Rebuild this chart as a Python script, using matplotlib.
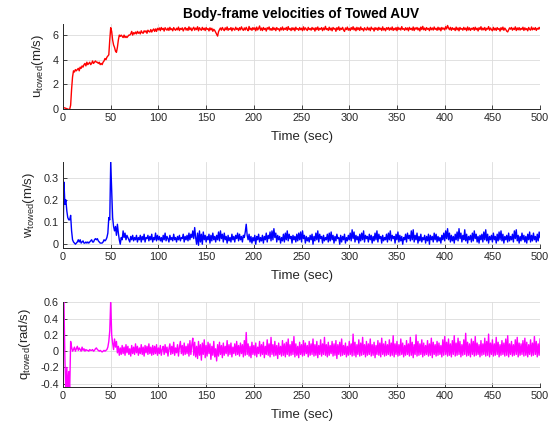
import numpy as np
import matplotlib
matplotlib.use("Agg")
import matplotlib.pyplot as plt

plt.rcParams['font.family'] = ['Liberation Sans', 'DejaVu Sans']
plt.rcParams['mathtext.default'] = 'regular'

# Simulation time, 1 s sampling
t_early = np.arange(0, 100, 1)
t_late = np.arange(100, 501, 1)

u_early = [0.15, 0.10, 0.08, 0.05, 0.02, 0.00, -0.05, -0.02, 0.30, 1.60,
           2.60, 3.10, 3.00, 3.20, 3.10, 3.20, 3.30, 3.10, 3.40, 3.30,
           3.50, 3.40, 3.60, 3.70, 3.50, 3.80, 3.60, 3.70, 3.80, 3.60,
           3.70, 3.90, 3.70, 3.80, 3.90, 3.80, 3.80, 3.70, 3.80, 3.60,
           3.70, 3.60, 3.80, 3.90, 4.10, 4.00, 4.20, 4.30, 4.40, 5.60,
           6.60, 6.30, 5.60, 5.20, 5.00, 4.70, 4.60, 5.00, 5.60, 6.00,
           5.90, 6.00, 5.90, 5.80, 6.00, 5.80, 5.90, 5.80, 5.90, 6.00,
           6.00, 6.10, 6.30, 6.00, 6.20, 6.10, 6.25, 6.10, 6.30, 6.15,
           6.25, 6.10, 6.35, 6.20, 6.15, 6.35, 6.25, 6.35, 6.15, 6.40,
           6.30, 6.25, 6.45, 6.25, 6.40, 6.50, 6.30, 6.50, 6.30, 6.55]

u_late = [6.42, 6.58, 6.36, 6.62, 6.45, 6.55, 6.33, 6.60, 6.48, 6.40,
          6.57, 6.38, 6.63, 6.44, 6.52, 6.35, 6.61, 6.47, 6.39, 6.56,
          6.43, 6.65, 6.37, 6.54, 6.46, 6.59, 6.34, 6.50, 6.62, 6.41,
          6.55, 6.38, 6.67, 6.44, 6.58, 6.36, 6.52, 6.64, 6.40, 6.57,
          6.45, 6.68, 6.35, 6.60, 6.48, 6.39, 6.63, 6.44, 6.56, 6.37,
          6.61, 6.46, 6.53, 6.34, 6.59, 6.42, 6.55, 6.31, 6.47, 6.38,
          6.22, 6.05, 5.92, 6.28, 6.45, 6.58, 6.40, 6.62, 6.47, 6.36,
          6.59, 6.44, 6.66, 6.39, 6.53, 6.45, 6.61, 6.35, 6.57, 6.48,
          6.40, 6.64, 6.46, 6.55, 6.37, 6.60, 6.43, 6.67, 6.49, 6.38,
          6.58, 6.42, 6.63, 6.47, 6.36, 6.70, 6.44, 6.56, 6.39, 6.61,
          6.46, 6.59, 6.35, 6.65, 6.42, 6.54, 6.74, 6.40, 6.57, 6.37,
          6.62, 6.45, 6.55, 6.33, 6.60, 6.48, 6.66, 6.41, 6.53, 6.39,
          6.63, 6.44, 6.57, 6.36, 6.61, 6.47, 6.52, 6.34, 6.59, 6.43,
          6.66, 6.40, 6.55, 6.46, 6.62, 6.38, 6.69, 6.45, 6.54, 6.37,
          6.60, 6.43, 6.58, 6.35, 6.64, 6.47, 6.53, 6.39, 6.61, 6.44,
          6.56, 6.36, 6.67, 6.42, 6.59, 6.48, 6.37, 6.63, 6.45, 6.54,
          6.40, 6.62, 6.46, 6.57, 6.33, 6.60, 6.44, 6.66, 6.39, 6.55,
          6.47, 6.61, 6.36, 6.58, 6.43, 6.71, 6.45, 6.53, 6.38, 6.64,
          6.42, 6.57, 6.35, 6.62, 6.48, 6.55, 6.31, 6.60, 6.44, 6.67,
          6.39, 6.56, 6.46, 6.63, 6.41, 6.30, 6.58, 6.45, 6.65, 6.40,
          6.54, 6.37, 6.61, 6.46, 6.68, 6.42, 6.57, 6.35, 6.63, 6.44,
          6.59, 6.38, 6.66, 6.45, 6.53, 6.34, 6.60, 6.47, 6.41, 6.64,
          6.43, 6.57, 6.36, 6.65, 6.48, 6.55, 6.33, 6.61, 6.45, 6.58,
          6.39, 6.63, 6.46, 6.56, 6.37, 6.67, 6.42, 6.54, 6.35, 6.60,
          6.47, 6.62, 6.40, 6.58, 6.44, 6.66, 6.38, 6.55, 6.43, 6.61,
          6.36, 6.64, 6.45, 6.57, 6.41, 6.69, 6.47, 6.53, 6.39, 6.60,
          6.44, 6.58, 6.35, 6.63, 6.46, 6.55, 6.40, 6.66, 6.37, 6.59,
          6.48, 6.62, 6.42, 6.56, 6.34, 6.65, 6.45, 6.71, 6.43, 6.57,
          6.38, 6.61, 6.47, 6.54, 6.36, 6.63, 6.44, 6.58, 6.41, 6.66,
          6.46, 6.55, 6.39, 6.64, 6.43, 6.59, 6.35, 6.62, 6.48, 6.57,
          6.42, 6.68, 6.50, 6.78, 6.58, 6.44, 6.63, 6.39, 6.60, 6.46,
          6.55, 6.37, 6.65, 6.43, 6.58, 6.35, 6.62, 6.47, 6.54, 6.40,
          6.63, 6.45, 6.57, 6.36, 6.66, 6.42, 6.59, 6.38, 6.55, 6.47,
          6.61, 6.39, 6.64, 6.44, 6.56, 6.34, 6.60, 6.46, 6.68, 6.41,
          6.57, 6.43, 6.62, 6.37, 6.55, 6.48, 6.69, 6.40, 6.58, 6.45,
          6.35, 6.63, 6.42, 6.56, 6.38, 6.61, 6.46, 6.54, 6.33, 6.60,
          6.44, 6.65, 6.39, 6.57, 6.46, 6.32, 6.26, 6.43, 6.59, 6.48,
          6.62, 6.40, 6.56, 6.45, 6.67, 6.37, 6.58, 6.43, 6.61, 6.41,
          6.55, 6.46, 6.64, 6.38, 6.59, 6.44, 6.53, 6.35, 6.62, 6.47,
          6.40, 6.66, 6.43, 6.57, 6.45, 6.61, 6.38, 6.55, 6.48, 6.63,
          6.50]

w_early = [0.00, 0.28, 0.18, 0.20, 0.15, 0.12, 0.11, 0.11, 0.13, 0.06,
           0.02, 0.01, 0.005, 0.00, 0.005, 0.01, 0.02, 0.01, 0.02, 0.005,
           0.01, 0.015, 0.005, 0.005, 0.01, 0.005, 0.01, 0.005, 0.01, 0.015,
           0.02, 0.01, 0.01, 0.02, 0.025, 0.02, 0.025, 0.015, 0.01, 0.005,
           0.005, 0.005, 0.01, 0.02, 0.015, 0.02, 0.03, 0.05, 0.12, 0.11,
           0.37, 0.25, 0.12, 0.08, 0.06, 0.08, 0.04, 0.09, 0.05, 0.02,
           0.00, 0.03, 0.02, 0.06, 0.03, 0.05, 0.02, 0.04, 0.03, 0.02,
           0.01, 0.035, 0.02, 0.04, 0.015, 0.03, 0.02, 0.04, 0.01, 0.03,
           0.02, 0.04, 0.01, 0.035, 0.02, 0.045, 0.01, 0.03, 0.025, 0.04,
           0.015, 0.035, 0.02, 0.045, 0.01, 0.03, 0.02, 0.05, 0.015, 0.04]

w_late = [0.02, 0.035, 0.015, 0.03, 0.01, 0.04, 0.02, 0.05, 0.015, 0.035,
          0.025, 0.01, 0.04, 0.02, 0.03, 0.015, 0.045, 0.02, 0.03, 0.01,
          0.035, 0.02, 0.04, 0.015, 0.03, 0.025, 0.045, 0.01, 0.035, 0.02,
          0.04, 0.015, 0.05, 0.02, 0.045, 0.03, 0.06, 0.025, 0.075, 0.03,
          0.0, 0.05, -0.005, 0.06, 0.01, 0.045, 0.0, 0.055, 0.02, 0.04,
          0.01, 0.035, 0.02, 0.045, 0.005, 0.04, 0.015, 0.05, 0.02, 0.035,
          0.01, 0.04, 0.02, 0.055, 0.015, 0.06, 0.025, 0.045, 0.01, 0.05,
          0.02, 0.035, 0.005, 0.04, 0.015, 0.03, 0.01, 0.045, 0.02, 0.035,
          0.01, 0.04, 0.025, 0.05, 0.015, 0.045, 0.02, 0.035, 0.01, 0.04,
          0.03, 0.055, 0.09, 0.04, 0.02, 0.045, 0.01, 0.035, 0.005, 0.03,
          0.015, 0.04, 0.0, 0.035, 0.02, 0.045, 0.01, 0.03, 0.015, 0.04,
          0.005, 0.035, 0.02, 0.05, 0.01, 0.04, 0.025, 0.055, 0.015, 0.06,
          0.02, 0.07, 0.03, 0.05, 0.01, 0.04, 0.02, 0.035, 0.005, 0.03,
          0.015, 0.045, 0.01, 0.05, 0.02, 0.06, 0.015, 0.045, 0.025, 0.035,
          0.005, 0.04, 0.02, 0.035, 0.01, 0.045, 0.015, 0.05, 0.02, 0.055,
          0.01, 0.06, 0.025, 0.04, 0.005, 0.035, 0.015, 0.03, 0.01, 0.04,
          0.02, 0.045, 0.0, 0.035, 0.015, 0.05, 0.02, 0.06, 0.01, 0.045,
          0.025, 0.035, 0.005, 0.04, 0.015, 0.03, 0.02, 0.045, 0.01, 0.05,
          0.015, 0.055, 0.02, 0.04, 0.005, 0.035, 0.015, 0.045, 0.025, 0.03,
          0.0, 0.04, 0.01, 0.035, 0.02, 0.045, 0.005, 0.03, 0.015, 0.04,
          0.02, 0.05, 0.015, 0.065, 0.025, 0.055, 0.01, 0.04, 0.02, 0.035,
          0.005, 0.045, 0.015, 0.05, 0.02, 0.06, 0.01, 0.04, 0.025, 0.035,
          0.01, 0.045, 0.02, 0.04, 0.005, 0.035, 0.015, 0.05, 0.02, 0.06,
          0.01, 0.045, 0.025, 0.035, 0.005, 0.04, 0.015, 0.03, 0.02, 0.045,
          0.01, 0.05, 0.02, 0.06, 0.015, 0.04, 0.025, 0.035, 0.005, 0.045,
          0.02, 0.055, 0.01, 0.04, 0.015, 0.035, 0.0, 0.03, 0.02, 0.045,
          0.01, 0.05, 0.025, 0.04, 0.015, 0.06, 0.02, 0.065, 0.01, 0.04,
          0.02, 0.05, 0.005, 0.035, 0.015, 0.045, 0.01, 0.03, 0.02, 0.04,
          0.005, 0.035, 0.015, 0.045, 0.0, 0.04, 0.02, 0.035, 0.01, 0.05,
          0.02, 0.045, 0.01, 0.035, 0.015, 0.03, 0.005, 0.04, 0.02, 0.05,
          0.015, 0.06, 0.025, 0.07, 0.02, 0.05, 0.01, 0.04, 0.015, 0.035,
          0.005, 0.045, 0.02, 0.055, 0.015, 0.07, 0.025, 0.05, 0.01, 0.04,
          0.02, 0.065, 0.015, 0.045, 0.005, 0.035, 0.02, 0.04, 0.01, 0.05,
          0.015, 0.06, 0.025, 0.045, 0.01, 0.035, 0.005, 0.04, 0.02, 0.045,
          0.01, 0.055, 0.02, 0.065, 0.015, 0.045, 0.005, 0.035, 0.02, 0.04,
          0.01, 0.05, 0.02, 0.035, 0.005, 0.045, 0.015, 0.055, 0.02, 0.06,
          0.015, 0.045, 0.005, 0.035, 0.02, 0.04, 0.01, 0.05, 0.015, 0.035,
          0.02, 0.045, 0.01, 0.06, 0.025, 0.065, 0.015, 0.04, 0.005, 0.035,
          0.015, 0.05, 0.02, 0.04, 0.01, 0.035, 0.005, 0.045, 0.02, 0.055,
          0.01, 0.04, 0.015, 0.05, 0.02, 0.035, 0.01, 0.045, 0.015, 0.055,
          0.03]

q_early = [0.00, 0.60, -0.10, -0.50, -0.20, -0.50, -0.25, -0.50, 0.12, 0.05,
           0.00, 0.02, 0.05, 0.00, 0.03, 0.06, 0.01, 0.04, 0.02, 0.00,
           0.05, 0.01, 0.03, 0.00, 0.02, 0.01, 0.01, 0.00, 0.02, 0.01,
           0.01, 0.02, 0.00, 0.01, 0.03, 0.04, 0.02, 0.01, 0.00, 0.01,
           0.00, -0.01, 0.00, 0.01, 0.00, 0.01, 0.02, 0.05, 0.12, 0.25,
           0.62, 0.20, 0.10, 0.02, 0.15, 0.05, 0.12, -0.02, 0.06, -0.05,
           0.04, -0.04, 0.07, -0.03, 0.05, -0.05, 0.08, -0.02, 0.06, -0.04,
           0.03, -0.06, 0.07, -0.03, 0.05, -0.04, 0.09, -0.02, 0.06, -0.05,
           0.04, -0.03, 0.08, -0.04, 0.05, -0.06, 0.07, -0.02, 0.06, -0.04,
           0.09, -0.03, 0.05, -0.05, 0.07, -0.04, 0.06, -0.03, 0.08, -0.05]

q_late = [0.04, -0.03, 0.07, -0.05, 0.02, 0.06, -0.04, 0.08, -0.02, 0.05,
          -0.06, 0.03, 0.09, -0.04, 0.06, -0.03, 0.11, -0.05, 0.04, -0.02,
          0.08, -0.06, 0.05, 0.12, -0.03, 0.07, -0.05, 0.10, -0.04, 0.06,
          -0.03, 0.09, -0.06, 0.13, -0.04, 0.08, 0.16, -0.05, 0.11, -0.07,
          0.06, -0.09, 0.12, -0.05, 0.08, -0.11, 0.10, -0.04, 0.14, -0.08,
          0.07, -0.06, 0.11, -0.03, 0.09, -0.10, 0.06, -0.05, 0.12, -0.07,
          0.03, -0.12, 0.08, -0.06, 0.11, -0.04, 0.07, -0.08, 0.10, -0.05,
          0.06, -0.03, 0.13, -0.06, 0.08, -0.04, 0.10, -0.07, 0.05, -0.03,
          0.09, -0.05, 0.12, -0.04, 0.07, -0.06, 0.10, -0.03, 0.08, -0.07,
          0.13, -0.05, 0.23, -0.04, 0.09, -0.06, 0.06, -0.08, 0.11, -0.04,
          0.07, -0.05, 0.10, -0.07, 0.05, -0.03, 0.12, -0.06, 0.08, -0.04,
          0.11, -0.08, 0.06, -0.04, 0.14, -0.05, 0.09, -0.07, 0.17, -0.04,
          0.08, -0.06, 0.12, -0.05, 0.07, -0.09, 0.10, -0.04, 0.06, -0.06,
          0.13, -0.05, 0.09, -0.07, 0.11, -0.04, 0.15, -0.06, 0.08, -0.05,
          0.12, -0.04, 0.18, -0.07, 0.09, -0.05, 0.06, -0.08, 0.11, -0.04,
          0.08, -0.06, 0.13, -0.05, 0.10, -0.03, 0.07, -0.07, 0.12, -0.05,
          0.09, -0.04, 0.15, -0.06, 0.08, -0.05, 0.12, -0.08, 0.07, -0.04,
          0.14, -0.06, 0.09, -0.04, 0.17, -0.05, 0.08, -0.07, 0.11, -0.05,
          0.07, -0.03, 0.12, -0.06, 0.09, -0.05, 0.13, -0.09, 0.08, -0.04,
          0.11, -0.06, 0.15, -0.05, 0.07, -0.04, 0.10, -0.07, 0.06, -0.05,
          0.12, -0.04, 0.09, -0.06, 0.21, -0.05, 0.11, -0.07, 0.08, -0.04,
          0.14, -0.06, 0.10, -0.05, 0.17, -0.04, 0.08, -0.07, 0.12, -0.05,
          0.09, -0.04, 0.15, -0.06, 0.08, -0.05, 0.11, -0.08, 0.07, -0.04,
          0.13, -0.05, 0.10, -0.07, 0.16, -0.04, 0.09, -0.06, 0.12, -0.05,
          0.08, -0.04, 0.14, -0.06, 0.10, -0.05, 0.19, -0.07, 0.09, -0.04,
          0.12, -0.06, 0.08, -0.05, 0.15, -0.04, 0.10, -0.07, 0.07, -0.05,
          0.13, -0.04, 0.09, -0.06, 0.17, -0.05, 0.11, -0.08, 0.08, -0.04,
          0.20, -0.06, 0.12, -0.05, 0.09, -0.04, 0.14, -0.07, 0.10, -0.05,
          0.07, -0.04, 0.13, -0.06, 0.09, -0.05, 0.16, -0.08, 0.11, -0.04,
          0.08, -0.06, 0.12, -0.05, 0.10, -0.04, 0.07, -0.07, 0.14, -0.05,
          0.18, -0.04, 0.11, -0.06, 0.15, -0.05, 0.09, -0.07, 0.13, -0.04,
          0.19, -0.06, 0.10, -0.05, 0.16, -0.04, 0.12, -0.07, 0.08, -0.05,
          0.14, -0.04, 0.22, -0.06, 0.11, -0.05, 0.09, -0.07, 0.15, -0.04,
          0.12, -0.06, 0.18, -0.05, 0.10, -0.04, 0.08, -0.07, 0.13, -0.05,
          0.09, -0.04, 0.16, -0.06, 0.12, -0.05, 0.21, -0.07, 0.10, -0.04,
          0.14, -0.06, 0.09, -0.05, 0.17, -0.04, 0.11, -0.07, 0.08, -0.05,
          0.13, -0.04, 0.10, -0.06, 0.15, -0.05, 0.19, -0.07, 0.09, -0.04,
          0.12, -0.06, 0.08, -0.05, 0.14, -0.04, 0.17, -0.07, 0.10, -0.05,
          0.09, -0.04, 0.13, -0.06, 0.16, -0.05, 0.11, -0.07, 0.08, -0.04,
          0.14, -0.06, 0.10, -0.05, 0.18, -0.04, 0.12, -0.07, 0.09, -0.05,
          0.15]

x_ticks = list(range(0, 501, 50))
u_ticks = [0, 2, 4, 6]
w_ticks = [0, 0.1, 0.2, 0.3]
q_ticks = [-0.4, -0.2, 0, 0.2, 0.4, 0.6]

t = np.concatenate([t_early, t_late])
panels = [
    (np.concatenate([u_early, u_late]), '#ff0000', (0, 6.9), u_ticks,
     r'u$_{towed}$(m/s)', [0.1125, 0.746, 0.852, 0.198]),
    (np.concatenate([w_early, w_late]), '#0000ff', (-0.017, 0.37), w_ticks,
     r'w$_{towed}$(m/s)', [0.1125, 0.422, 0.852, 0.200]),
    (np.concatenate([q_early, q_late]), '#ff00ff', (-0.44, 0.61), q_ticks,
     r'q$_{towed}$(rad/s)', [0.1125, 0.098, 0.852, 0.199]),
]

fig = plt.figure(figsize=(5.6, 4.29), dpi=100)
dark = '#262626'
for i, (y, color, ylim, yticks, ylabel, pos) in enumerate(panels):
    ax = fig.add_axes(pos)
    ax.plot(t, y, color=color, lw=1.0)
    ax.set_xlim(0, 500)
    ax.set_ylim(*ylim)
    ax.set_xticks(x_ticks)
    ax.set_yticks(yticks)
    ax.set_yticklabels(['%g' % v for v in yticks])
    ax.grid(True, color='#dcdcdc', lw=0.6)
    ax.set_axisbelow(True)
    for side in ('top', 'right'):
        ax.spines[side].set_visible(False)
    for side in ('left', 'bottom'):
        ax.spines[side].set_color(dark)
        ax.spines[side].set_linewidth(0.7)
    ax.tick_params(direction='in', length=3, width=0.6, colors=dark,
                   labelsize=7.8, pad=3)
    ax.set_xlabel('Time (sec)', fontsize=9.5, color=dark, labelpad=6)
    ax.set_ylabel(ylabel, fontsize=9.5, color=dark, labelpad=5)
    if i == 0:
        ax.set_title('Body-frame velocities of Towed AUV', fontsize=9.8,
                     fontweight='bold', color='black', pad=4)

fig.savefig('out.png', dpi=100)
